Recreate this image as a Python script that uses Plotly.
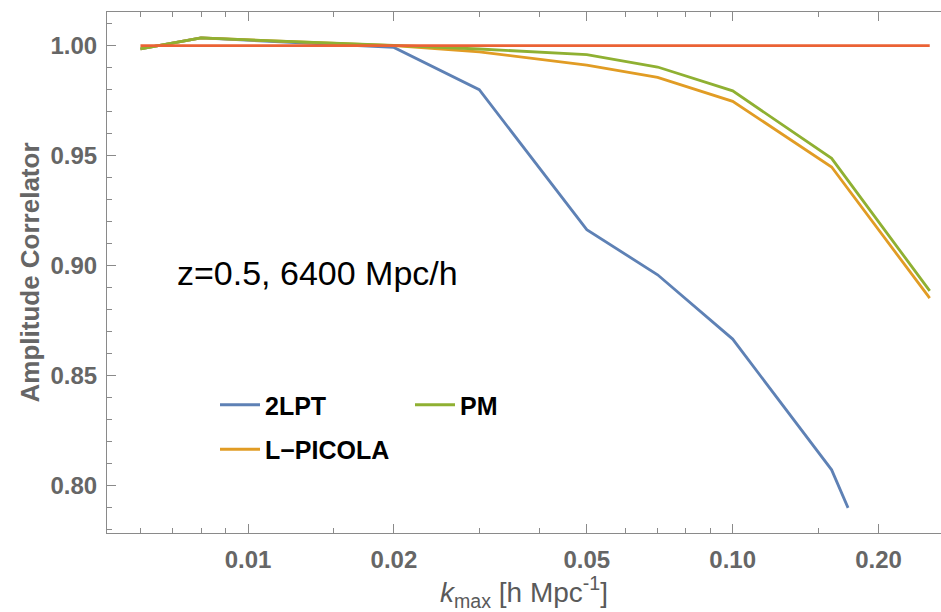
import plotly.graph_objects as go
import math

# ---- data ----
k_2lpt = [0.006, 0.008, 0.02, 0.03, 0.05, 0.07, 0.10, 0.16, 0.173]
corr_2lpt = [0.9986, 1.0035, 0.9992, 0.9800, 0.9164, 0.8959, 0.8667, 0.8073, 0.7900]

k_picola = [0.006, 0.008, 0.02, 0.03, 0.05, 0.07, 0.10, 0.16, 0.255]
corr_picola = [0.9986, 1.0035, 1.0000, 0.9972, 0.9912, 0.9856, 0.9747, 0.9449, 0.8853]

k_pm = [0.006, 0.008, 0.02, 0.03, 0.05, 0.07, 0.10, 0.16, 0.255]
corr_pm = [0.9986, 1.0035, 1.0001, 0.9985, 0.9959, 0.9903, 0.9795, 0.9488, 0.8886]

k_ref = [0.006, 0.255]
corr_ref = [1.0, 1.0]

x_major = [0.01, 0.02, 0.05, 0.10, 0.20]
x_major_text = ["0.01", "0.02", "0.05", "0.10", "0.20"]
x_minor = [0.006, 0.007, 0.008, 0.009, 0.015, 0.03, 0.04, 0.06, 0.07, 0.08, 0.09, 0.15]
y_major = [0.80, 0.85, 0.90, 0.95, 1.00]
y_major_text = ["0.80", "0.85", "0.90", "0.95", "1.00"]

BLUE = "#5E81B5"
ORANGE = "#E19C24"
GREEN = "#8FB032"
RED = "#EB6235"
FONT = "Liberation Sans, Arial, sans-serif"
LW = 2.8

fig = go.Figure()
fig.add_trace(go.Scatter(x=k_2lpt, y=corr_2lpt, mode="lines", name="2LPT",
                         line=dict(color=BLUE, width=LW), legend="legend", legendgroup="a"))
fig.add_trace(go.Scatter(x=k_picola, y=corr_picola, mode="lines", name="L\u2212PICOLA",
                         line=dict(color=ORANGE, width=LW), legend="legend", legendgroup="b"))
fig.add_trace(go.Scatter(x=k_pm, y=corr_pm, mode="lines", name="PM",
                         line=dict(color=GREEN, width=LW), legend="legend2", legendgroup="c"))
fig.add_trace(go.Scatter(x=k_ref, y=corr_ref, mode="lines", name="ref",
                         line=dict(color=RED, width=LW), showlegend=False))

L, R, T, B = 107, 0, 12, 79
W, H = 941, 612
pw, ph = W - L - R, H - T - B

def px_x(p):
    return (p - L) / pw

def px_y(p):
    return (H - B - p) / ph

axis_col = "#8a8a8a"
fig.update_layout(
    width=W, height=H,
    margin=dict(l=L, r=R, t=T, b=B, pad=0),
    paper_bgcolor="white", plot_bgcolor="white",
    font=dict(family=FONT),
    xaxis=dict(
        type="log", range=[math.log10(0.01) - 0.2909, -0.5702],
        showgrid=False, zeroline=False,
        showline=True, linecolor=axis_col, linewidth=1, mirror="ticks",
        ticks="inside", ticklen=9, tickcolor=axis_col, tickwidth=1,
        tickmode="array", tickvals=x_major, ticktext=x_major_text,
        tickfont=dict(size=24, color="#666666", family=FONT, weight="bold"),
        ticklabelstandoff=5,
        minor=dict(tickmode="array", tickvals=x_minor, ticks="inside",
                   ticklen=5, tickcolor=axis_col, tickwidth=1, showgrid=False),
        title=dict(text="<i>k</i><sub>max</sub> [h Mpc<sup>-1</sup>]",
                   font=dict(size=28, color="#5a5a5a", family=FONT), standoff=11),
    ),
    yaxis=dict(
        range=[0.7786, 1.0153],
        showgrid=False, zeroline=False,
        showline=True, linecolor=axis_col, linewidth=1, mirror=False,
        ticks="inside", ticklen=9, tickcolor=axis_col, tickwidth=1,
        tickmode="array", tickvals=y_major, ticktext=y_major_text,
        tickfont=dict(size=24, color="#666666", family=FONT, weight="bold"),
        ticklabelstandoff=4,
        minor=dict(dtick=0.01, ticks="inside", ticklen=5,
                   tickcolor=axis_col, tickwidth=1, showgrid=False),
        title=dict(text="Amplitude Correlator",
                   font=dict(size=26, color="#666666", family=FONT, weight="bold"),
                   standoff=3),
    ),
    legend=dict(x=px_x(215), y=px_y(382), xanchor="left", yanchor="top",
                bgcolor="rgba(0,0,0,0)", borderwidth=0, itemwidth=40,
                traceorder="grouped", tracegroupgap=9,
                font=dict(size=25, color="black", family=FONT, weight="bold")),
    legend2=dict(x=px_x(410), y=px_y(382), xanchor="left", yanchor="top",
                 bgcolor="rgba(0,0,0,0)", borderwidth=0, itemwidth=40,
                 font=dict(size=25, color="black", family=FONT, weight="bold")),
    showlegend=True,
)

fig.add_annotation(text="z=0.5, 6400 Mpc/h", xref="paper", yref="paper",
                   x=px_x(175), y=px_y(273), xanchor="left", yanchor="middle",
                   showarrow=False, font=dict(size=34, color="black", family=FONT))

fig.write_html("out.html")
